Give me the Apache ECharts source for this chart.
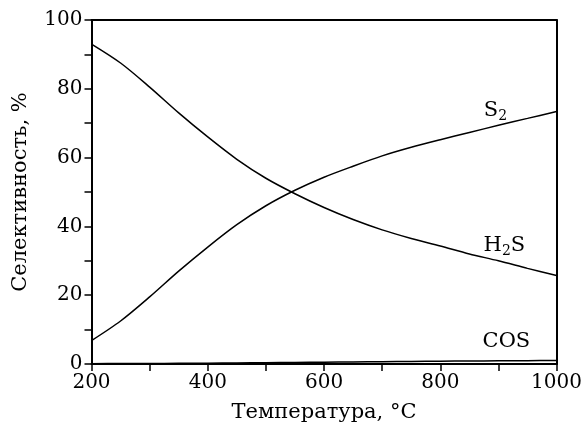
<!DOCTYPE html>
<html>
<head>
<meta charset="utf-8">
<script src="https://cdn.jsdelivr.net/npm/echarts@6/dist/echarts.min.js"></script>
<style>
  html, body { margin: 0; padding: 0; background: #fff; }
  #chart { width: 585px; height: 428px; }
</style>
</head>
<body>
<div id="chart"></div>
<script>
const temps = [200, 250, 300, 350, 400, 450, 500, 550, 600, 650, 700, 750, 800, 850, 900, 950, 1000];
const h2s = [93, 87.5, 80.5, 73, 66, 59.5, 54, 49.5, 45.5, 42, 39, 36.5, 34.3, 32, 30, 27.8, 25.7];
const s2 = [6.8, 12.5, 19.5, 27, 34, 40.5, 46, 50.5, 54.3, 57.5, 60.5, 63, 65.2, 67.3, 69.4, 71.4, 73.4];
const cos = [0.1, 0.12, 0.15, 0.2, 0.25, 0.3, 0.38, 0.45, 0.52, 0.6, 0.68, 0.75, 0.82, 0.88, 0.93, 0.97, 1.0];
const labelAt = 900;

const font = "'DejaVu Serif', 'Liberation Serif', serif";
const chart = echarts.init(document.getElementById("chart"));

const mkSeries = (name, vals, text, offset) => ({
  name,
  type: "line",
  data: temps.map((t, i) => {
    const p = { value: [t, vals[i]] };
    if (t === labelAt) {
      p.label = {
        show: true, position: "inside", offset,
        formatter: text,
        color: "#000", fontFamily: font, fontSize: 21,
        rich: {
          sub: { fontSize: 14, fontFamily: font, color: "#000", padding: [12, 0, 0, 0] },
        },
      };
    }
    return p;
  }),
  smooth: 0.3,
  symbol: "circle",
  symbolSize: 0,
  showSymbol: true,
  lineStyle: { color: "#000", width: 1.5 },
  z: 3,
});

const axisText = { color: "#000", fontFamily: font, fontSize: 20 };

chart.setOption({
  animation: false,
  grid: { left: 91.5, right: 27, top: 20, bottom: 61 },
  xAxis: [{
    type: "value", min: 200, max: 1000, interval: 100,
    axisLine: { onZero: false, lineStyle: { color: "#000", width: 2 } },
    axisTick: { length: 7, lineStyle: { color: "#000", width: 1.5 } },
    axisLabel: { ...axisText, margin: 9, formatter: (v) => (v % 200 === 0 ? String(v) : "") },
    splitLine: { show: false },
    name: "Температура, °C", nameLocation: "middle", nameGap: 38,
    nameTextStyle: { ...axisText, fontSize: 21 },
  }, {
    type: "value", min: 200, max: 1000, position: "top",
    axisLine: { show: true, onZero: false, lineStyle: { color: "#000", width: 2 } },
    axisTick: { show: false }, axisLabel: { show: false }, splitLine: { show: false },
  }],
  yAxis: [{
    type: "value", min: 0, max: 100, interval: 10,
    axisLine: { show: true, onZero: false, lineStyle: { color: "#000", width: 2 } },
    axisTick: { show: true, length: 7, lineStyle: { color: "#000", width: 1.5 } },
    axisLabel: { ...axisText, margin: 9, formatter: (v) => (v % 20 === 0 ? String(v) : "") },
    splitLine: { show: false },
    name: "Селективность, %", nameLocation: "middle", nameGap: 60,
    nameTextStyle: { ...axisText, fontSize: 21 },
  }, {
    type: "value", min: 0, max: 100, position: "right",
    axisLine: { show: true, onZero: false, lineStyle: { color: "#000", width: 2 } },
    axisTick: { show: false }, axisLabel: { show: false }, splitLine: { show: false },
  }],
  series: [
    mkSeries("S2", s2, "S{sub|2}", [-3, -15]),
    mkSeries("H2S", h2s, "H{sub|2}S", [6, -15]),
    mkSeries("COS", cos, "COS", [8, -19]),
  ],
});
</script>
</body>
</html>
